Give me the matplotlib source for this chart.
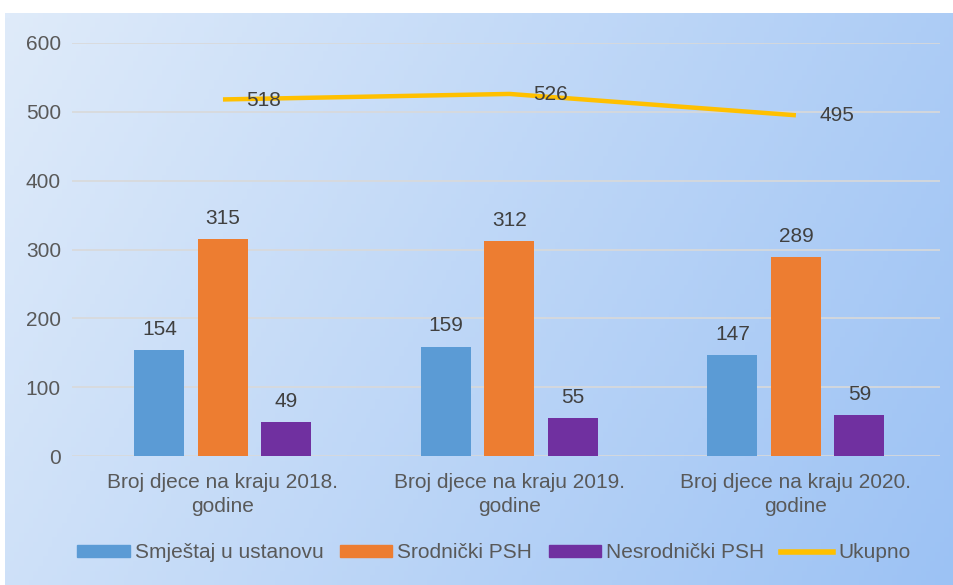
import numpy as np
import matplotlib.pyplot as plt
from matplotlib.patches import Patch
from matplotlib.lines import Line2D

plt.rcParams['font.family'] = ['Liberation Sans', 'DejaVu Sans']

categories = ['Broj djece na kraju 2018.\ngodine',
              'Broj djece na kraju 2019.\ngodine',
              'Broj djece na kraju 2020.\ngodine']
ustanova = [154, 159, 147]
srodnicki = [315, 312, 289]
nesrodnicki = [49, 55, 59]
ukupno = [518, 526, 495]

series_names = ['Smještaj u ustanovu', 'Srodnički PSH', 'Nesrodnički PSH', 'Ukupno']
colors = ['#5b9bd5', '#ed7d31', '#7030a0', '#ffc000']
text_color = '#595959'
fs = 15

W, H = 954, 585
fig = plt.figure(figsize=(W / 100, H / 100), dpi=100)
fig.patch.set_facecolor('white')

# gradient background of the chart area
bg = fig.add_axes([5 / W, 0, (W - 5) / W, (H - 13) / H], zorder=0)
gx, gy = np.meshgrid(np.linspace(0, 1, 200), np.linspace(0, 1, 120))
t = 0.75 * gx + 0.25 * gy
c0 = np.array([0xdf, 0xeb, 0xfa]) / 255
c1 = np.array([0x9c, 0xc2, 0xf4]) / 255
img = c0[None, None, :] * (1 - t[..., None]) + c1[None, None, :] * t[..., None]
bg.imshow(img, aspect='auto', extent=[0, 1, 0, 1], origin='upper')
bg.axis('off')

ax = fig.add_axes([72 / W, (H - 456) / H, (940 - 72) / W, (456 - 43) / H], zorder=1)
ax.patch.set_alpha(0)

x = np.arange(len(categories))
width = 0.1745
step = 0.2216
for i, vals in enumerate([ustanova, srodnicki, nesrodnicki]):
    pos = x + (i - 1) * step
    ax.bar(pos, vals, width, color=colors[i], zorder=3)
    for p, v in zip(pos, vals):
        ax.text(p, v + 30, str(v), ha='center', va='center', fontsize=fs, color='#404040')

ax.plot(x, ukupno, color=colors[3], lw=3.2, zorder=4, solid_capstyle='butt')
for p, v in zip(x, ukupno):
    ax.text(p + 0.142, v - 1, str(v), ha='center', va='center', fontsize=fs, color='#404040', zorder=5)

ax.set_xlim(-0.527, 2.503)
ax.set_ylim(0, 600)
ax.set_yticks(range(0, 601, 100))
ax.yaxis.grid(True, color='#d9d9d9', lw=1.2, zorder=0)
ax.set_axisbelow(True)
for s in ax.spines.values():
    s.set_visible(False)
ax.tick_params(length=0, labelsize=fs, colors=text_color)
ax.tick_params(axis='y', pad=8)
ax.tick_params(axis='x', pad=12)
ax.set_xticks(x)
ax.set_xticklabels(categories, fontsize=fs, linespacing=1.35)

handles = [Patch(color=c) for c in colors[:3]] + [Line2D([], [], color=colors[3], lw=4)]
fig.legend(handles, series_names, loc='center', bbox_to_anchor=(494 / W, 1 - 553 / H),
           ncol=4, frameon=False, fontsize=fs, labelcolor=text_color,
           handlelength=2.5, handleheight=0.5, handletextpad=0.25, columnspacing=0.8,
           borderaxespad=0, borderpad=0)

fig.savefig('out.png', dpi=100)
